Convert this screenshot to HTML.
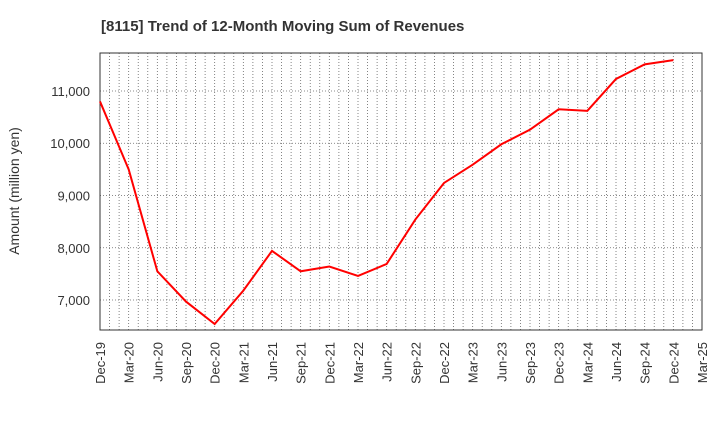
<!DOCTYPE html>
<html><head><meta charset="utf-8"><style>
body{margin:0;background:#fff;font-family:"Liberation Sans",sans-serif}
</style></head><body>
<svg id="chart" width="720" height="440" xmlns="http://www.w3.org/2000/svg" font-family="Liberation Sans, sans-serif">
<text x="101" y="31" font-size="15" font-weight="bold" fill="#333">[8115]  Trend of 12-Month Moving Sum of Revenues</text>
<text transform="translate(19,191) rotate(-90)" text-anchor="middle" font-size="14" fill="#333">Amount (million yen)</text>
<g id="grid"></g><g id="axes"></g><g id="series"></g>
</svg>
<script>
const categories=["Dec-19","Mar-20","Jun-20","Sep-20","Dec-20","Mar-21","Jun-21","Sep-21","Dec-21","Mar-22","Jun-22","Sep-22","Dec-22","Mar-23","Jun-23","Sep-23","Dec-23","Mar-24","Jun-24","Sep-24","Dec-24","Mar-25"];
const revenues=[10800,9500,7550,6970,6540,7180,7940,7550,7640,7460,7690,8540,9240,9590,9980,10260,10650,10620,11230,11510,11590];
const yTicks=[7000,8000,9000,10000,11000];
const yTickLabels=["7,000","8,000","9,000","10,000","11,000"];
const L=100,R=702,T=53,B=330,yMin=6426,yMax=11727;
const ns="http://www.w3.org/2000/svg";
const xq=i=>L+(R-L)*i/(categories.length-1);
const y=v=>B-(v-yMin)/(yMax-yMin)*(B-T);
function mk(tag,attrs,parent,txt){const e=document.createElementNS(ns,tag);for(const k in attrs)e.setAttribute(k,attrs[k]);if(txt!==undefined)e.textContent=txt;document.getElementById(parent).appendChild(e);return e;}
const months=(categories.length-1)*3;
for(let m=1;m<months;m++){const x=L+(R-L)*m/months;
const g=mk("line",{x1:x,x2:x,y1:T,y2:B,stroke:"#666","stroke-width":0.8,"stroke-dasharray":"1,2"},"grid");

}
yTicks.forEach((v,i)=>{
const g=mk("line",{x1:L,x2:R,y1:y(v),y2:y(v),stroke:"#666","stroke-width":0.8,"stroke-dasharray":"1,2"},"grid");


const t=mk("text",{x:L-10,y:y(v)+5,"text-anchor":"end","font-size":13,fill:"#333"},"axes",yTickLabels[i]);

});
categories.forEach((c,i)=>{
const t=mk("text",{transform:`translate(${xq(i)+5},${B+12}) rotate(-90)`,"text-anchor":"end","font-size":13,fill:"#333"},"axes",c);

});
const f=mk("rect",{x:L,y:T,width:R-L,height:B-T,fill:"none",stroke:"#333","stroke-width":1},"axes");


const p=mk("polyline",{points:revenues.map((v,i)=>xq(i)+","+y(v)).join(" "),fill:"none",stroke:"#ff0000","stroke-width":2},"series");


</script>
</body></html>
